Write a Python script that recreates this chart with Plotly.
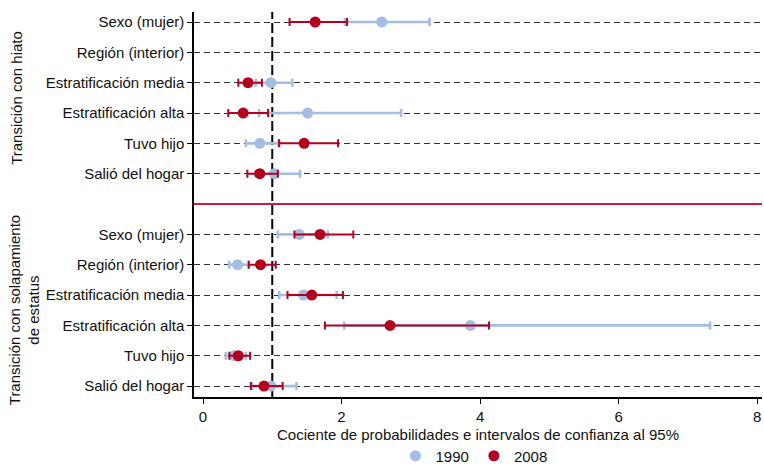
import plotly.graph_objects as go

# ---- data ----
variables = ["Sexo (mujer)", "Región (interior)", "Estratificación media",
             "Estratificación alta", "Tuvo hijo", "Salió del hogar"]
groups = ["Transición con hiato", "Transición con solapamiento<br>de estatus"]
years = ["1990", "2008"]

# Transición con hiato
or_1990_hiato = [2.58, None, 0.98, 1.51, 0.82, 1.03]
lo_1990_hiato = [2.05, None, 0.76, 0.81, 0.62, 0.76]
hi_1990_hiato = [3.27, None, 1.29, 2.86, 1.09, 1.40]
or_2008_hiato = [1.62, None, 0.65, 0.58, 1.46, 0.82]
lo_2008_hiato = [1.25, None, 0.51, 0.365, 1.10, 0.64]
hi_2008_hiato = [2.08, None, 0.85, 0.94, 1.95, 1.08]

# Transición con solapamiento de estatus
or_1990_solap = [1.39, 0.50, 1.45, 3.86, 0.45, 0.98]
lo_1990_solap = [1.08, 0.38, 1.10, 2.04, 0.33, 0.71]
hi_1990_solap = [1.80, 0.66, 1.93, 7.32, 0.62, 1.35]
or_2008_solap = [1.69, 0.83, 1.57, 2.70, 0.51, 0.88]
lo_2008_solap = [1.32, 0.66, 1.22, 1.76, 0.38, 0.69]
hi_2008_solap = [2.17, 1.05, 2.02, 4.13, 0.68, 1.15]

x_ticks = [0, 2, 4, 6, 8]
x_title = "Cociente de probabilidades e intervalos de confianza al 95%"

# ---- layout helpers ----
n = len(variables)
pos_hiato = list(range(n))
sep_pos = n
pos_solap = [n + 1 + i for i in range(n)]

BLUE = "#a3bde3"
RED = "#b3001e"
SEP = "#c81d3b"
FONT = "Liberation Sans, Arial, sans-serif"
FS = 15

ML, MR, MT, MB = 194, 2, 12, 67
W, H = 764, 464
PLOT_W = W - ML - MR
PLOT_H = H - MT - MB


def series(ors, los, his, pos):
    xs, ys, plus, minus = [], [], [], []
    for o, l, h, p in zip(ors, los, his, pos):
        if o is None:
            continue
        xs.append(o)
        ys.append(p)
        plus.append(h - o)
        minus.append(o - l)
    return xs, ys, plus, minus


fig = go.Figure()

specs = [
    (years[0], BLUE, [(or_1990_hiato, lo_1990_hiato, hi_1990_hiato, pos_hiato),
                      (or_1990_solap, lo_1990_solap, hi_1990_solap, pos_solap)], 2.6),
    (years[1], RED, [(or_2008_hiato, lo_2008_hiato, hi_2008_hiato, pos_hiato),
                     (or_2008_solap, lo_2008_solap, hi_2008_solap, pos_solap)], 2.0),
]

for name, color, parts, th in specs:
    X, Y, P, M = [], [], [], []
    for part in parts:
        xs, ys, p, m = series(*part)
        X += xs; Y += ys; P += p; M += m
    fig.add_trace(go.Scatter(
        x=X, y=Y, mode="markers", name=name,
        marker=dict(color=color, size=11, line=dict(width=0)),
        error_x=dict(type="data", symmetric=False, array=P, arrayminus=M,
                     color=color, thickness=th, width=4),
        cliponaxis=False,
    ))

tickvals = pos_hiato + pos_solap
ticktext = variables + variables

fig.add_shape(type="line", xref="x", yref="paper", x0=1, x1=1, y0=0, y1=1,
              line=dict(color="black", width=2, dash="10px,4px"), layer="below")
fig.add_shape(type="line", xref="paper", yref="y", x0=0, x1=1, y0=sep_pos, y1=sep_pos,
              line=dict(color=SEP, width=2), layer="below")

fig.add_annotation(text=groups[0], xref="paper", yref="y",
                   x=(17 - ML) / PLOT_W, y=(pos_hiato[0] + pos_hiato[-1]) / 2,
                   textangle=-90, showarrow=False, xanchor="center", yanchor="middle",
                   font=dict(size=FS, color="#111", family=FONT))
fig.add_annotation(text=groups[1], xref="paper", yref="y",
                   x=(24 - ML) / PLOT_W, y=(pos_solap[0] + pos_solap[-1]) / 2,
                   textangle=-90, showarrow=False, xanchor="center", yanchor="middle",
                   font=dict(size=FS, color="#111", family=FONT))

fig.update_layout(
    width=W, height=H,
    margin=dict(l=ML, r=MR, t=MT, b=MB, autoexpand=False),
    paper_bgcolor="white", plot_bgcolor="white",
    font=dict(family=FONT, size=FS, color="#111"),
    showlegend=True,
    legend=dict(orientation="h", x=0.493, xanchor="center", y=-59 / PLOT_H, yanchor="middle",
                font=dict(size=FS), itemwidth=30, traceorder="normal",
                bgcolor="rgba(0,0,0,0)"),
    xaxis=dict(range=[-0.13, 8.07], tickvals=x_ticks, showgrid=False, zeroline=False,
               showline=True, linecolor="black", linewidth=1.5, automargin=False,
               ticks="outside", ticklen=5, tickcolor="black",
               title=dict(text=x_title, font=dict(size=FS), standoff=6)),
    yaxis=dict(range=[n * 2 + 0.36, -0.33], tickvals=tickvals, ticktext=ticktext,
               showgrid=True, gridcolor="#333", gridwidth=1, griddash="6px,4px",
               zeroline=False, showline=True, linecolor="black", linewidth=1.5,
               automargin=False,
               ticks="outside", ticklen=5, tickcolor="black"),
)

fig.write_html("out.html",
               config={"displayModeBar": False},
               post_script="document.body.style.margin='0';document.body.style.overflow='hidden';")
